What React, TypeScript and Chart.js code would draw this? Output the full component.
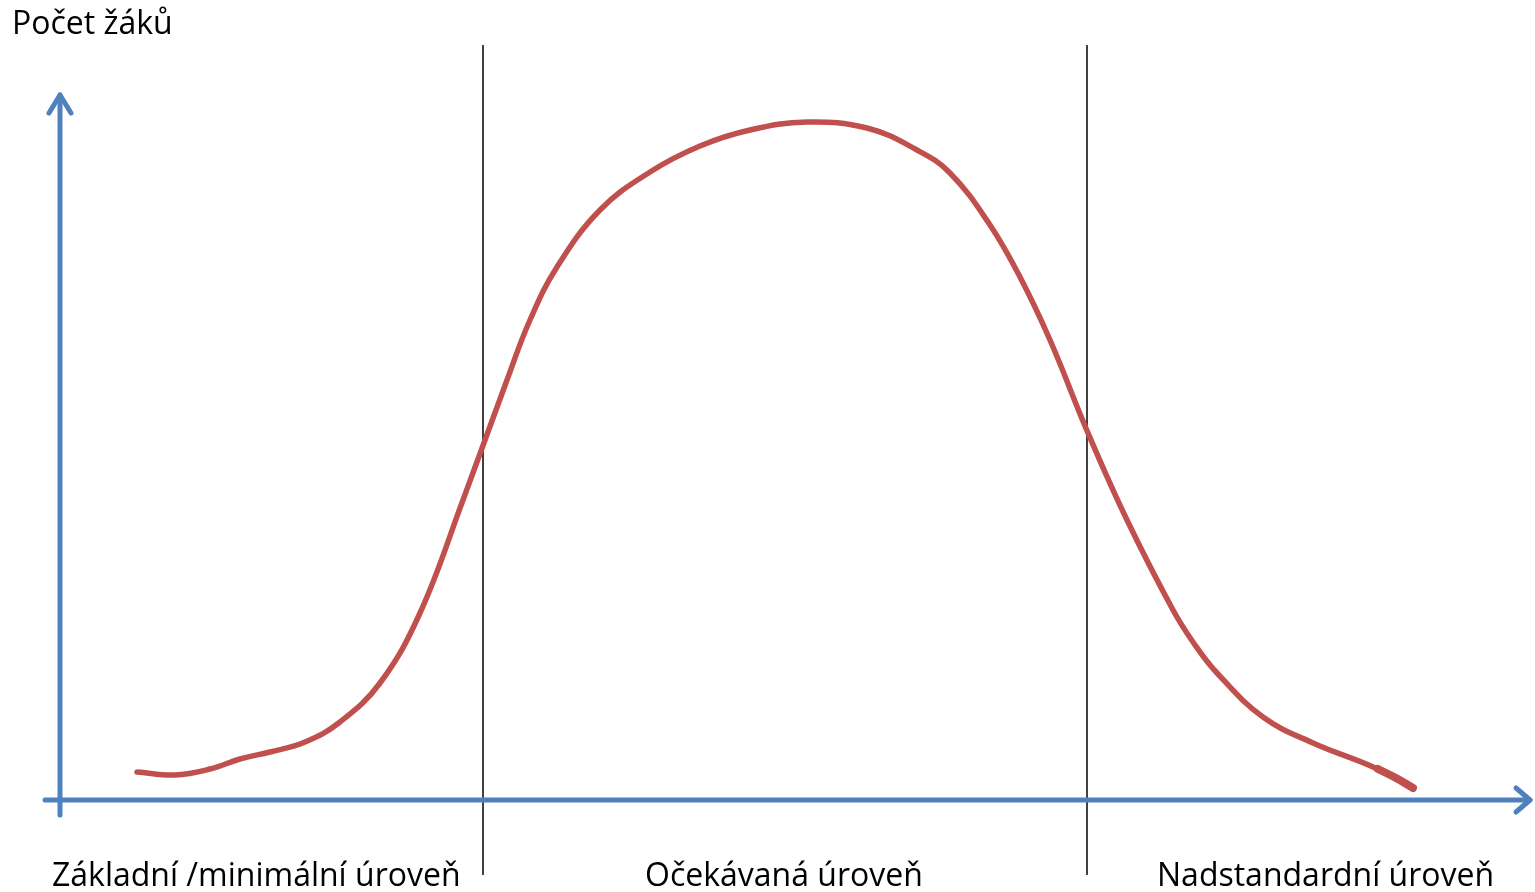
import React, { useEffect, useRef } from "react";
import { Chart, registerables } from "chart.js";

Chart.register(...registerables);

// Curve (x = position along the achievement axis, y = number of pupils)
const curveX = [77, 115, 150, 180, 210, 245, 280, 320, 360, 403, 447, 470, 497, 540, 590, 640, 690, 747, 807, 857, 890, 930, 960, 990, 1028, 1067, 1113, 1133, 1157, 1203, 1253, 1313, 1353];
const curveY = [28, 25, 31, 41, 48, 58, 78, 117, 187, 300, 420, 480, 533, 590, 628, 654, 670, 678, 672, 650, 627, 575, 523, 460, 367, 280, 190, 158, 127, 83, 57, 33, 12];
// Thicker pen stroke at the very end of the curve
const hookX = [1318, 1336, 1353];
const hookY = [31, 22, 12];

// Boundaries between the levels
const boundaries = [423, 1027];
// Level labels and their x position (start of text)
const levelLabels = ["Základní /minimální úroveň", "Očekávaná úroveň", "Nadstandardní úroveň"];
const levelLabelX = [-8, 585, 1097];
const yAxisTitle = "Počet žáků";

const X_MIN = -60, X_MAX = 1475, Y_MIN = -92, Y_MAX = 800;
const AXIS_X_END = 1470; // x-axis arrow tip
const AXIS_Y_END = 705; // y-axis arrow tip

const BLUE = "#4F81BD";
const RED = "#C0504D";
const FONT = "'Open Sans', 'Noto Sans', sans-serif";

const decorPlugin = {
  id: "decor",
  beforeDatasetsDraw(chart: any) {
    const { ctx, scales } = chart;
    const xs = scales.x, ys = scales.y;
    const px = (v: number) => xs.getPixelForValue(v);
    const py = (v: number) => ys.getPixelForValue(v);
    ctx.save();
    // vertical boundary lines
    ctx.strokeStyle = "#000";
    ctx.lineWidth = 1.5;
    boundaries.forEach((b) => {
      ctx.beginPath();
      ctx.moveTo(px(b), py(755));
      ctx.lineTo(px(b), py(-75));
      ctx.stroke();
    });
    // axes
    ctx.strokeStyle = BLUE;
    ctx.lineWidth = 5;
    ctx.lineCap = "round";
    ctx.lineJoin = "round";
    ctx.beginPath();
    ctx.moveTo(px(-15), py(0));
    ctx.lineTo(px(AXIS_X_END), py(0));
    ctx.stroke();
    ctx.beginPath();
    ctx.moveTo(px(0), py(-15));
    ctx.lineTo(px(0), py(AXIS_Y_END));
    ctx.stroke();
    // arrow heads
    ctx.beginPath();
    ctx.moveTo(px(AXIS_X_END) - 14, py(0) - 12);
    ctx.lineTo(px(AXIS_X_END), py(0));
    ctx.lineTo(px(AXIS_X_END) - 14, py(0) + 12);
    ctx.stroke();
    ctx.beginPath();
    ctx.moveTo(px(0) - 11, py(AXIS_Y_END) + 18);
    ctx.lineTo(px(0), py(AXIS_Y_END));
    ctx.lineTo(px(0) + 11, py(AXIS_Y_END) + 18);
    ctx.stroke();
    // texts
    ctx.fillStyle = "#000";
    ctx.textBaseline = "alphabetic";
    ctx.font = `32px ${FONT}`;
    ctx.fillText(yAxisTitle, px(-48), 34);
    levelLabels.forEach((t, i) => {
      ctx.fillText(t, px(levelLabelX[i]), 886);
    });
    ctx.restore();
  },
};

export default function App() {
  const ref = useRef<HTMLCanvasElement | null>(null);
  useEffect(() => {
    document.body.style.margin = "0";
    const canvas = ref.current!;
    const chart = new Chart(canvas, {
      type: "line",
      data: {
        datasets: [
          {
            data: curveX.map((x, i) => ({ x, y: curveY[i] })),
            borderColor: RED,
            borderWidth: 5.5,
            borderCapStyle: "round",
            borderJoinStyle: "round",
            pointRadius: 0,
            tension: 0.4,
            fill: false,
          },
          {
            data: hookX.map((x, i) => ({ x, y: hookY[i] })),
            borderColor: RED,
            borderWidth: 8,
            borderCapStyle: "round",
            borderJoinStyle: "round",
            pointRadius: 0,
            tension: 0.4,
            fill: false,
          },
        ],
      },
      options: {
        responsive: false,
        animation: false,
        layout: { padding: 0 },
        plugins: { legend: { display: false }, tooltip: { enabled: false } },
        scales: {
          x: { type: "linear", min: X_MIN, max: X_MAX, display: false },
          y: { type: "linear", min: Y_MIN, max: Y_MAX, display: false },
        },
      },
      plugins: [decorPlugin],
    });
    return () => chart.destroy();
  }, []);
  return (
    <div style={{ position: "absolute", left: 0, top: 0, width: 1535, height: 892, background: "#fff" }}>
      <canvas ref={ref} width={1535} height={892} />
    </div>
  );
}
